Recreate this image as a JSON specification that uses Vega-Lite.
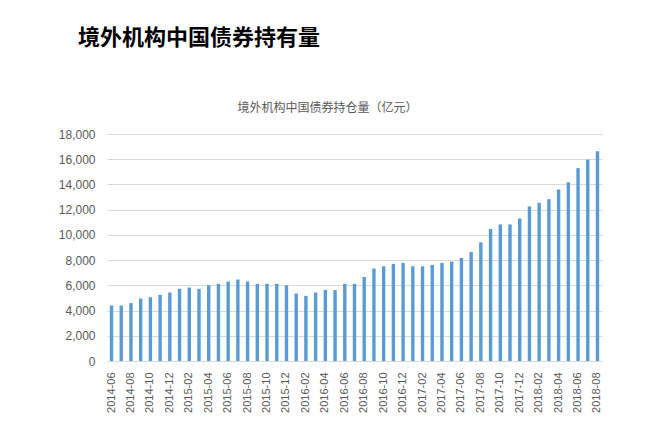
{
  "$schema": "https://vega.github.io/schema/vega-lite/v6.json",
  "width": 495,
  "height": 227,
  "autosize": {"type": "none"},
  "padding": {"left": 107, "top": 134, "right": 58, "bottom": 85},
  "background": "white",
  "title": {"text": "境外机构中国债券持有量", "anchor": "start", "frame": "group", "dx": -29, "dy": -47, "font": "Noto Sans CJK SC", "fontSize": 22, "fontWeight": "bold", "color": "#000000"},
  "config": {"view": {"stroke": null}},
  "data": {"values": [
    {"month": "2014-06", "value": 4400},
    {"month": "2014-07", "value": 4400},
    {"month": "2014-08", "value": 4590},
    {"month": "2014-09", "value": 4955},
    {"month": "2014-10", "value": 5060},
    {"month": "2014-11", "value": 5245},
    {"month": "2014-12", "value": 5430},
    {"month": "2015-01", "value": 5720},
    {"month": "2015-02", "value": 5825},
    {"month": "2015-03", "value": 5720},
    {"month": "2015-04", "value": 6010},
    {"month": "2015-05", "value": 6115},
    {"month": "2015-06", "value": 6300},
    {"month": "2015-07", "value": 6460},
    {"month": "2015-08", "value": 6300},
    {"month": "2015-09", "value": 6115},
    {"month": "2015-10", "value": 6115},
    {"month": "2015-11", "value": 6115},
    {"month": "2015-12", "value": 6010},
    {"month": "2016-01", "value": 5350},
    {"month": "2016-02", "value": 5165},
    {"month": "2016-03", "value": 5430},
    {"month": "2016-04", "value": 5640},
    {"month": "2016-05", "value": 5620},
    {"month": "2016-06", "value": 6115},
    {"month": "2016-07", "value": 6115},
    {"month": "2016-08", "value": 6670},
    {"month": "2016-09", "value": 7330},
    {"month": "2016-10", "value": 7510},
    {"month": "2016-11", "value": 7700},
    {"month": "2016-12", "value": 7775},
    {"month": "2017-01", "value": 7510},
    {"month": "2017-02", "value": 7510},
    {"month": "2017-03", "value": 7620},
    {"month": "2017-04", "value": 7775},
    {"month": "2017-05", "value": 7880},
    {"month": "2017-06", "value": 8170},
    {"month": "2017-07", "value": 8645},
    {"month": "2017-08", "value": 9410},
    {"month": "2017-09", "value": 10465},
    {"month": "2017-10", "value": 10830},
    {"month": "2017-11", "value": 10830},
    {"month": "2017-12", "value": 11305},
    {"month": "2018-01", "value": 12255},
    {"month": "2018-02", "value": 12545},
    {"month": "2018-03", "value": 12835},
    {"month": "2018-04", "value": 13600},
    {"month": "2018-05", "value": 14180},
    {"month": "2018-06", "value": 15290},
    {"month": "2018-07", "value": 15970},
    {"month": "2018-08", "value": 16630}
  ]},
  "layer": [
    {
      "mark": {"type": "bar", "color": "#5b9bd5"},
      "encoding": {
        "x": {
          "field": "month", "type": "ordinal", "sort": null,
          "scale": {"paddingInner": 0.65, "paddingOuter": 0.29},
          "axis": {
            "title": null,
            "values": ["2014-06","2014-08","2014-10","2014-12","2015-02","2015-04","2015-06","2015-08","2015-10","2015-12","2016-02","2016-04","2016-06","2016-08","2016-10","2016-12","2017-02","2017-04","2017-06","2017-08","2017-10","2017-12","2018-02","2018-04","2018-06","2018-08"],
            "labelAngle": 270,
            "labelFont": "Liberation Sans",
            "labelFontSize": 11,
            "labelColor": "#595959",
            "labelPadding": 11,
            "ticks": false,
            "domain": true,
            "domainColor": "#d9d9d9",
            "grid": false
          }
        },
        "y": {
          "field": "value", "type": "quantitative",
          "scale": {"domain": [0, 18000]},
          "axis": {
            "title": null,
            "values": [0, 2000, 4000, 6000, 8000, 10000, 12000, 14000, 16000, 18000],
            "format": ",.0f",
            "labelFont": "Liberation Sans",
            "labelFontSize": 12,
            "labelColor": "#595959",
            "labelPadding": 12,
            "ticks": false,
            "domain": false,
            "gridColor": "#d9d9d9",
            "gridWidth": 1
          }
        }
      }
    },
    {
      "mark": {"type": "bar", "opacity": 0},
      "encoding": {
        "x": {
          "field": "month", "type": "ordinal", "sort": null,
          "axis": {
            "orient": "top",
            "title": "境外机构中国债券持仓量（亿元）",
            "titleFont": "Noto Sans CJK SC",
            "titleFontSize": 12,
            "titleFontWeight": "normal",
            "titleColor": "#595959",
            "titleX": 220,
            "titleY": -27,
            "titleBaseline": "middle",
            "labels": false,
            "ticks": false,
            "domain": false,
            "grid": false
          }
        }
      }
    }
  ],
  "resolve": {"axis": {"x": "independent"}}
}
